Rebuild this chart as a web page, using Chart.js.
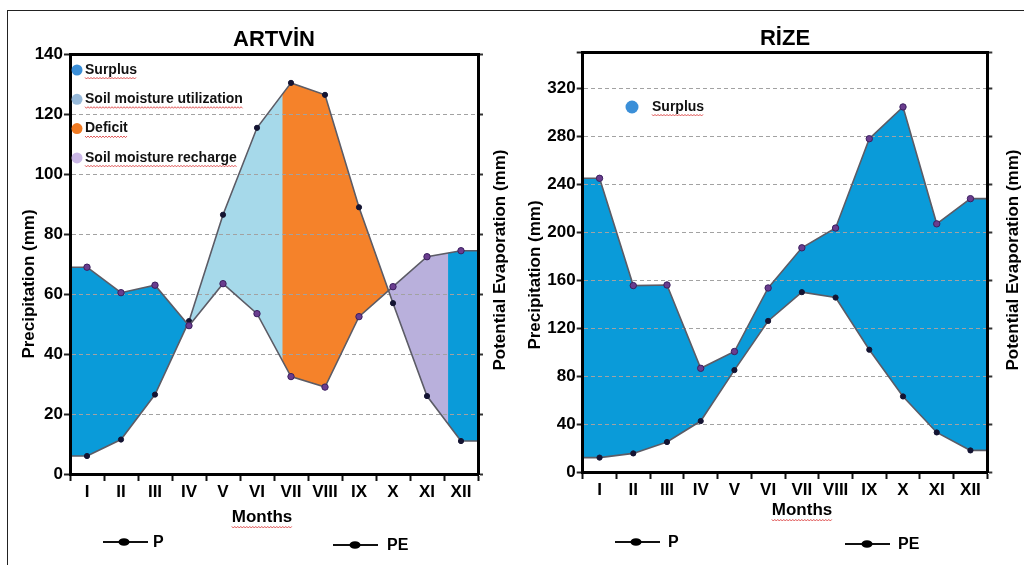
<!DOCTYPE html>
<html>
<head>
<meta charset="utf-8">
<script src="https://cdn.jsdelivr.net/npm/chart.js@4.4.1/dist/chart.umd.min.js"></script>
<style>
  html, body { margin: 0; padding: 0; background: #fff; }
  body { width: 1031px; height: 565px; position: relative; overflow: hidden; }
  #frame { position: absolute; left: 7px; top: 10px; width: 1016px; height: 600px;
           border-top: 1px solid #222; border-left: 1px solid #222; }
  #artvin { position: absolute; left: 0; top: 0; }
  #rize { position: absolute; left: 516px; top: 0; }
</style>
</head>
<body>
<div id="frame"></div>
<canvas id="artvin" width="516" height="565"></canvas>
<canvas id="rize" width="515" height="565"></canvas>
<script>
var months = ['I', 'II', 'III', 'IV', 'V', 'VI', 'VII', 'VIII', 'IX', 'X', 'XI', 'XII'];

// ARTVIN (mm)
var artvinP  = [69, 60.5, 63, 49.5, 63.5, 53.5, 32.5, 29, 52.5, 62.5, 72.5, 74.5];
var artvinPE = [6, 11.5, 26.5, 51, 86.5, 115.5, 130.5, 126.5, 89, 57, 26, 11];
// zones along the month axis (0 = I, -0.5 / 11.5 = frame edges)
var artvinZoneFrom = [-0.5, 2.97, 5.75, 8.87, 10.62];
var artvinZoneTo   = [2.97, 5.75, 8.87, 10.62, 11.5];
var artvinZoneKind = ['surplus', 'utilization', 'deficit', 'recharge', 'surplus'];
var artvinLegend     = ['Surplus', 'Soil moisture utilization', 'Deficit', 'Soil moisture recharge'];
var artvinLegendKind = ['surplus', 'utilization', 'deficit', 'recharge'];

// RIZE (mm)
var rizeP  = [245, 155.5, 156, 86.5, 100.5, 153.5, 187, 203.5, 278, 304.5, 207, 228];
var rizePE = [12, 15.5, 25, 42.5, 85, 126, 150, 145.5, 102, 63, 33, 18];
var rizeZoneFrom = [-0.5];
var rizeZoneTo   = [11.5];
var rizeZoneKind = ['surplus'];
var rizeLegend     = ['Surplus'];
var rizeLegendKind = ['surplus'];

var FONT = '"Liberation Sans", Arial, Helvetica, sans-serif';
var zoneFill = { surplus: '#0a9bd9', utilization: '#a6d9ea', deficit: '#f5822a', recharge: '#b9b0dc' };
var dotColor = { surplus: '#3b8fd8', utilization: '#97b9d9', deficit: '#f07a22', recharge: '#cbb8e6' };
var lineColor = '#5c5c66';

function squiggle(ctx, x0, x1, y) {
  ctx.save();
  ctx.strokeStyle = '#d83030';
  ctx.lineWidth = 0.8;
  ctx.beginPath();
  for (var x = x0, k = 0; x <= x1; x += 1.5, k++) {
    var yy = y + (k % 2 ? 1 : -0.6);
    if (k === 0) ctx.moveTo(x, yy); else ctx.lineTo(x, yy);
  }
  ctx.stroke();
  ctx.restore();
}

// fills the space between P and PE, one colour per zone, and runs both curves flat out to the frame
var waterBalance = {
  id: 'waterBalance',
  beforeDraw: function (chart, args, opts) {
    var ctx = chart.ctx, xs = chart.scales.x, ys = chart.scales.y, a = chart.chartArea;
    var p = chart.data.datasets[0].data, pe = chart.data.datasets[1].data, n = p.length;
    function outline() {
      ctx.beginPath();
      ctx.moveTo(a.left, ys.getPixelForValue(p[0]));
      for (var i = 0; i < n; i++) ctx.lineTo(xs.getPixelForValue(i), ys.getPixelForValue(p[i]));
      ctx.lineTo(a.right, ys.getPixelForValue(p[n - 1]));
      ctx.lineTo(a.right, ys.getPixelForValue(pe[n - 1]));
      for (var j = n - 1; j >= 0; j--) ctx.lineTo(xs.getPixelForValue(j), ys.getPixelForValue(pe[j]));
      ctx.lineTo(a.left, ys.getPixelForValue(pe[0]));
      ctx.closePath();
    }
    for (var k = 0; k < opts.from.length; k++) {
      var x0 = xs.getPixelForValue(opts.from[k]), x1 = xs.getPixelForValue(opts.to[k]);
      ctx.save();
      ctx.beginPath();
      ctx.rect(x0, a.top, x1 - x0 + 0.5, a.bottom - a.top);
      ctx.clip();
      outline();
      ctx.fillStyle = zoneFill[opts.kind[k]];
      ctx.fill();
      ctx.restore();
    }
    ctx.save();
    ctx.strokeStyle = lineColor;
    ctx.lineWidth = 1.6;
    [p, pe].forEach(function (d) {
      ctx.beginPath();
      ctx.moveTo(a.left, ys.getPixelForValue(d[0]));
      ctx.lineTo(xs.getPixelForValue(0), ys.getPixelForValue(d[0]));
      ctx.moveTo(xs.getPixelForValue(n - 1), ys.getPixelForValue(d[n - 1]));
      ctx.lineTo(a.right, ys.getPixelForValue(d[n - 1]));
      ctx.stroke();
    });
    ctx.restore();
  }
};

function upText(ctx, txt, x, y) {
  ctx.save();
  ctx.translate(x, y);
  ctx.rotate(-Math.PI / 2);
  ctx.textAlign = 'center';
  ctx.textBaseline = 'middle';
  ctx.fillText(txt, 0, 0);
  ctx.restore();
}

// axis titles, legend dots inside the plot, bottom P / PE keys and spell-check squiggles
var annotations = {
  id: 'annotations',
  afterDraw: function (chart, args, opts) {
    var ctx = chart.ctx;
    ctx.save();
    ctx.fillStyle = '#000';
    ctx.font = 'bold 17px ' + FONT;
    upText(ctx, 'Precipitation (mm)', opts.yTitle[0], opts.yTitle[1]);
    upText(ctx, 'Potential Evaporation (mm)', opts.y1Title[0], opts.y1Title[1]);
    ctx.textAlign = 'center';
    ctx.textBaseline = 'middle';
    ctx.fillText('Months', opts.xTitle[0], opts.xTitle[1]);
    var w = ctx.measureText('Months').width;
    squiggle(ctx, opts.xTitle[0] - w / 2, opts.xTitle[0] + w / 2, opts.xTitle[1] + 10);

    ctx.font = 'bold 14px ' + FONT;
    ctx.textAlign = 'left';
    opts.items.forEach(function (txt, i) {
      var y = opts.legendY + i * opts.legendDy;
      ctx.fillStyle = dotColor[opts.kinds[i]];
      ctx.beginPath();
      ctx.arc(opts.dotX, y, opts.dotR, 0, Math.PI * 2);
      ctx.fill();
      ctx.fillStyle = '#111';
      ctx.fillText(txt, opts.textX, y);
      squiggle(ctx, opts.textX, opts.textX + ctx.measureText(txt).width, y + 8);
    });

    ctx.font = 'bold 16px ' + FONT;
    opts.keys.forEach(function (key) {
      ctx.strokeStyle = '#111';
      ctx.lineWidth = 2;
      ctx.beginPath();
      ctx.moveTo(key.x0, key.y);
      ctx.lineTo(key.x1, key.y);
      ctx.stroke();
      ctx.fillStyle = '#000';
      ctx.beginPath();
      ctx.ellipse(key.mx, key.y, 5.5, 3.8, 0, 0, Math.PI * 2);
      ctx.fill();
      ctx.fillText(key.label, key.tx, key.y + 1);
    });
    ctx.restore();
  }
};

function buildChart(id, title, p, pe, zone, yMax, yStep, geo, notes) {
  var tickFont = { family: FONT, size: 17, weight: 'bold' };
  var yTicks = {
    stepSize: yStep,
    color: '#000',
    font: tickFont,
    padding: 1,
    callback: function (v) { return v % yStep === 0 ? v : ''; }
  };
  return new Chart(document.getElementById(id), {
    type: 'line',
    data: {
      labels: months,
      datasets: [
        { label: 'P', data: p, borderColor: lineColor, borderWidth: 1.6, tension: 0,
          pointRadius: 3.2, pointBackgroundColor: '#6a3d8e', pointBorderColor: '#3b2060', pointBorderWidth: 1 },
        { label: 'PE', data: pe, borderColor: lineColor, borderWidth: 1.6, tension: 0,
          pointRadius: 2.6, pointBackgroundColor: '#141432', pointBorderColor: '#141432', pointBorderWidth: 1 }
      ]
    },
    options: {
      responsive: false,
      animation: false,
      layout: { padding: geo.pad },
      plugins: {
        legend: { display: false },
        tooltip: { enabled: false },
        title: { display: true, text: title, color: '#000', fullSize: false,
                 font: { family: FONT, size: 22, weight: 'bold' }, padding: geo.titlePad },
        waterBalance: zone,
        annotations: notes
      },
      scales: {
        x: {
          type: 'category', position: 'bottom', offset: true,
          grid: { offset: true, drawOnChartArea: false, tickLength: 7, tickColor: '#111', tickWidth: 2 },
          border: { color: '#000', width: 3 },
          ticks: { color: '#000', font: tickFont, padding: 1, maxRotation: 0, autoSkip: false },
          afterFit: function (s) { s.height = 60; }
        },
        xTop: {
          type: 'category', position: 'top', offset: true,
          grid: { display: false },
          border: { color: '#000', width: 3 },
          ticks: { display: false },
          afterFit: function (s) { s.height = 0; }
        },
        y: {
          position: 'left', min: 0, max: yMax,
          grid: { color: '#a2a2a2', lineWidth: 1, tickLength: 6, tickColor: '#222', tickWidth: 2 },
          border: { color: '#000', width: 3, dash: [4, 3] },
          ticks: yTicks,
          afterFit: function (s) { s.width = geo.yWidth; }
        },
        y1: {
          position: 'right', min: 0, max: yMax,
          grid: { drawOnChartArea: false, tickLength: 5, tickColor: '#333', tickWidth: 2 },
          border: { color: '#000', width: 3 },
          ticks: { display: false, stepSize: yStep },
          afterFit: function (s) { s.width = geo.y1Width; }
        }
      }
    },
    plugins: [waterBalance, annotations]
  });
}

buildChart('artvin', 'ARTVİN', artvinP, artvinPE,
  { from: artvinZoneFrom, to: artvinZoneTo, kind: artvinZoneKind },
  140, 20,
  { pad: { left: 8, right: 0, top: 0, bottom: 31 }, titlePad: { top: 27, bottom: 1 },
    yWidth: 62, y1Width: 38 },
  { items: artvinLegend, kinds: artvinLegendKind, dotX: 77, dotR: 5.5, textX: 85, legendY: 70, legendDy: 29.3,
    yTitle: [29, 284], y1Title: [500, 260], xTitle: [262, 517],
    keys: [ { label: 'P', x0: 103, x1: 148, y: 542, mx: 124, tx: 153 },
            { label: 'PE', x0: 333, x1: 378, y: 545, mx: 355, tx: 387 } ] });

buildChart('rize', 'RİZE', rizeP, rizePE,
  { from: rizeZoneFrom, to: rizeZoneTo, kind: rizeZoneKind },
  350, 40,
  { pad: { left: 0, right: 0, top: 0, bottom: 33 }, titlePad: { top: 26, bottom: 0 },
    yWidth: 66.7, y1Width: 43.7 },
  { items: rizeLegend, kinds: rizeLegendKind, dotX: 116, dotR: 6.5, textX: 136, legendY: 107, legendDy: 0,
    yTitle: [19, 275], y1Title: [497, 260], xTitle: [286, 510],
    keys: [ { label: 'P', x0: 99, x1: 144, y: 542, mx: 120, tx: 152 },
            { label: 'PE', x0: 329, x1: 374, y: 544, mx: 351, tx: 382 } ] });
</script>
</body>
</html>
